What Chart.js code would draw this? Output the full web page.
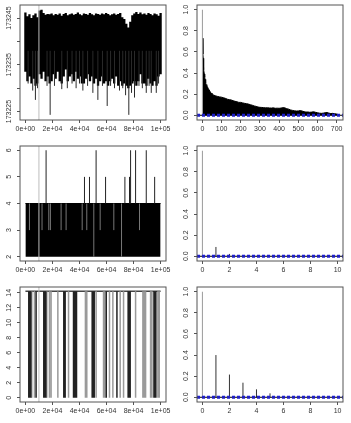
<!DOCTYPE html>
<html>
<head>
<meta charset="utf-8">
<script src="https://cdn.jsdelivr.net/npm/chart.js@4.4.0/dist/chart.umd.min.js"></script>
<style>
    html, body { margin: 0; padding: 0; background: #fff; }
    #panel { display: grid; grid-template-columns: 175px 176px; grid-auto-rows: 141px; width: 351px; }
    canvas { display: block; }
</style>
</head>
<body>
<div id="panel">
    <canvas id="trazaA" width="175" height="141"></canvas>
    <canvas id="acfA" width="176" height="141"></canvas>
    <canvas id="trazaB" width="175" height="141"></canvas>
    <canvas id="acfB" width="176" height="141"></canvas>
    <canvas id="trazaC" width="175" height="141"></canvas>
    <canvas id="acfC" width="176" height="141"></canvas>
</div>
<script>

// ===============================
// DATOS
// ===============================

const rangoIter = [0, 100000];
const burnIn = 10000;

const ticksIter = [0, 20000, 40000, 60000, 80000, 100000];
const etiquetasIter = ["0e+00", "2e+04", "4e+04", "6e+04", "8e+04", "1e+05"];

// traza 1: minimo y maximo del cuerpo de cada tramo de la cadena
const trazaBajo = [
    173233.5, 173231.5, 173232.5, 173231, 173232, 173230.5, 173231, 173233,
    173232, 173233.5, 173231.5, 173232.5, 173231, 173231.5, 173233, 173232,
    173233.5, 173231.5, 173231, 173232.5, 173234, 173231.5, 173232.5, 173233,
    173231.5, 173233.5, 173232, 173232.5, 173231, 173231, 173232, 173233,
    173231.5, 173232.5, 173231, 173232, 173230.5, 173231.5, 173232.5, 173231,
    173231.5, 173230.5, 173231.5, 173232, 173231, 173232.5, 173230.5, 173231.5,
    173230.5, 173231, 173230.5, 173230, 173230.5, 173231, 173231.5, 173230.5,
    173231.5, 173233, 173231, 173231, 173230.5, 173232, 173231, 173230.5,
    173231.5, 173230.5, 173232.5, 173233
];
const trazaAlto = [
    173246.2, 173245.4, 173245.8, 173245.0, 173245.6, 173246.0, 173245.2, 173246.6,
    173246.8, 173246.1, 173245.7, 173245.9, 173245.8, 173246.0, 173245.6, 173245.9,
    173245.7, 173246.0, 173245.5, 173245.9, 173246.1, 173245.6, 173245.8, 173246.0,
    173245.7, 173245.9, 173246.2, 173245.8, 173245.6, 173246.0, 173245.9, 173245.7,
    173246.1, 173245.8, 173245.6, 173246.0, 173245.9, 173245.7, 173246.0, 173245.8,
    173246.1, 173245.9, 173245.6, 173245.8, 173246.0, 173245.7, 173245.9, 173246.1,
    173245.2, 173244.8, 173243.8, 173243.0, 173244.2, 173245.6, 173246.0, 173246.3,
    173245.9, 173246.2, 173245.8, 173246.0, 173245.7, 173246.1, 173245.9, 173245.6,
    173246.0, 173245.8, 173245.5, 173246.1
];
// picos finos hacia abajo
const picoIterA = [2000, 5400, 7400, 9000, 16000, 18300, 21500, 26900, 31000, 34500, 37500,
    40000, 42500, 46000, 49900, 53600, 57000, 60500, 63000, 65900, 69600, 72000, 74100,
    76500, 78500, 80700, 84000, 86500, 89400, 91500, 93100, 96800, 98500];
const picoValorA = [173231, 173229.5, 173227.5, 173230, 173230.5, 173224.3, 173230.5, 173229.8,
    173230, 173231, 173230, 173231, 173229.5, 173230.5, 173229, 173227.5, 173230.5, 173226.2,
    173230.5, 173230, 173229.5, 173230, 173228.5, 173224.3, 173229, 173228, 173230.5, 173230,
    173229, 173230.5, 173229, 173229, 173231];
const limA = [173223.2, 173247.8];
const ticksA = [173225, 173230, 173235, 173240, 173245];
const etiquetasA = ["173225", "", "173235", "", "173245"];

// traza 2
const nivelBloqueB = [2, 4];
const saltoIterB = [15300, 43700, 47400, 52300, 59300, 73600, 77000, 77800, 81500, 89400, 95600];
const saltoValorB = [6, 5, 5, 6, 5, 5, 5, 6, 6, 6, 5];
const huecoIterB = [3000, 12300, 17300, 18500, 26400, 30100, 42000, 45400, 50600, 55300, 65400, 71100, 84400];
const huecoBajoB = [3, 3, 3, 3, 3, 3, 3, 3, 2, 3, 3, 2, 3];
const limB = [1.84, 6.16];
const ticksB = [2, 3, 4, 5, 6];

// traza 3
const nivelAltoC = 14.2;
const caidaOscuraC = [2500, 3200, 4000, 7900, 13600, 14300, 15100, 28400, 29400, 35600, 36300,
    37000, 37800, 49400, 50100, 50900, 59800, 67700, 76000, 76800, 77500, 95100, 95800, 96500];
const caidaClaraC = [4700, 6700, 15800, 17800, 19000, 24000, 31900, 44400, 45400, 52300, 57800,
    58800, 62200, 64700, 70100, 72600, 81500, 86900, 87900, 88900, 92600, 93600, 98000, 99000];
const limC = [-0.57, 14.77];
const ticksC = [0, 2, 4, 6, 8, 10, 12, 14];

// autocorrelaciones
const limAcf = [-0.045, 1.045];
const ticksAcf = [0, 0.2, 0.4, 0.6, 0.8, 1.0];
const etiquetasAcf = ["0.0", "0.2", "0.4", "0.6", "0.8", "1.0"];
const bandaAcf = 0.0063;

const lagsA = [1, 2, 3, 4, 5, 6, 7, 8, 10, 12, 14, 16, 18, 20, 23, 26, 30, 35, 40, 45, 50, 55, 60,
    70, 80, 90, 100, 110, 120, 130, 140, 150, 160, 170, 180, 190, 200, 210, 220, 230, 240, 250,
    260, 270, 280, 290, 300, 310, 320, 330, 340, 350, 360, 370, 380, 390, 400, 410, 420, 430,
    440, 450, 460, 470, 480, 490, 500, 510, 520, 530, 540, 550, 560, 570, 580, 590, 600, 610,
    620, 630, 640, 650, 660, 670, 680, 690, 700, 705];
const acfA = [0.73, 0.64, 0.58, 0.54, 0.50, 0.47, 0.45, 0.43, 0.39, 0.36, 0.34, 0.32, 0.305, 0.29,
    0.28, 0.27, 0.255, 0.24, 0.225, 0.21, 0.2, 0.195, 0.19, 0.183, 0.178, 0.174, 0.171, 0.166,
    0.16, 0.152, 0.148, 0.145, 0.138, 0.132, 0.128, 0.122, 0.122, 0.117, 0.113, 0.11, 0.106,
    0.1, 0.095, 0.088, 0.084, 0.078, 0.075, 0.074, 0.072, 0.07, 0.071, 0.069, 0.068, 0.07,
    0.066, 0.067, 0.066, 0.068, 0.072, 0.07, 0.062, 0.058, 0.05, 0.046, 0.042, 0.04, 0.041,
    0.044, 0.04, 0.034, 0.03, 0.031, 0.028, 0.03, 0.033, 0.028, 0.024, 0.02, 0.018, 0.02,
    0.024, 0.026, 0.02, 0.016, 0.018, 0.014, 0.012, 0.01];
const limLagA = [-28.2, 733.2];
const ticksLagA = [0, 100, 200, 300, 400, 500, 600, 700];

const lagsCorto = [0, 1, 2, 3, 4, 5, 6, 7, 8, 9, 10];
const acfB = [1, 0.088, 0.022, 0.006, 0.003, 0.002, 0.004, 0.002, 0.001, 0.002, 0.001];
const acfC = [1, 0.40, 0.215, 0.138, 0.075, 0.037, 0.012, 0.004, 0.002, 0.001, 0.001];
const limLagCorto = [-0.4, 10.4];
const ticksLagCorto = [0, 2, 4, 6, 8, 10];


// ===============================
// ESTILO
// ===============================

const familia = "'Liberation Sans', Arial, sans-serif";
const colorTexto = "#333";
const colorEje = "#555";
const azul = "#1f1fd0";

const marco = {
    id: "marco",
    afterDatasetsDraw(chart) {
        const { ctx, chartArea: a } = chart;
        ctx.save();
        ctx.strokeStyle = colorEje;
        ctx.lineWidth = 1;
        ctx.strokeRect(a.left, a.top, a.right - a.left, a.bottom - a.top);
        ctx.restore();
    }
};

// etiquetas del eje y giradas como en R
const etiquetasY = {
    id: "etiquetasY",
    afterDraw(chart) {
        const s = chart.scales.y;
        const ctx = chart.ctx;
        ctx.save();
        ctx.fillStyle = colorTexto;
        ctx.font = "7px " + familia;
        ctx.textAlign = "center";
        ctx.textBaseline = "middle";
        s.ticks.forEach(t => {
            if (!t.label) return;
            ctx.save();
            ctx.translate(chart.chartArea.left - 11, s.getPixelForValue(t.value));
            ctx.rotate(-Math.PI / 2);
            ctx.fillText(t.label, 0, 0);
            ctx.restore();
        });
        ctx.restore();
    }
};


// ===============================
// AYUDAS
// ===============================

// segmentos verticales separados por huecos
function segmentos(xs, bajos, altos) {
    let puntos = [];
    xs.forEach((x, i) => {
        puntos.push({ x: x, y: bajos[i] });
        puntos.push({ x: x, y: altos[i] });
        puntos.push({ x: x, y: null });
    });
    return puntos;
}

function linea(datos, color, ancho, orden, extra) {
    return Object.assign({
        data: datos,
        borderColor: color,
        borderWidth: ancho,
        borderCapStyle: "butt",
        pointRadius: 0,
        fill: false,
        tension: 0,
        order: orden
    }, extra || {});
}

function escala(lim, ticks, etiquetas, eje, ancho) {
    return {
        type: "linear",
        min: lim[0],
        max: lim[1],
        afterBuildTicks: s => { s.ticks = ticks.map(v => ({ value: v })); },
        afterFit: s => {
            if (eje === "x") s.height = 21;
            else s.width = ancho;
        },
        ticks: {
            display: eje === "x",
            callback: (v, i) => etiquetas[i],
            color: colorTexto,
            font: { family: familia, size: 7 },
            padding: 2,
            maxRotation: 0,
            autoSkip: false
        },
        grid: { drawOnChartArea: false, color: colorEje, tickLength: 3 },
        border: { display: false }
    };
}

function crearPanel(id, datasets, limX, ticksX, etiquetasX, limY, ticksY, etiquetasYTexto, ancho) {
    new Chart(document.getElementById(id), {
        type: "line",
        data: { datasets: datasets },
        options: {
            responsive: false,
            animation: false,
            events: [],
            layout: { padding: { top: 5, right: ancho === 20 ? 9 : 8, left: 0, bottom: 0 } },
            plugins: { legend: { display: false }, tooltip: { enabled: false } },
            scales: {
                x: escala(limX, ticksX, etiquetasX, "x", ancho),
                y: escala(limY, ticksY, etiquetasYTexto, "y", ancho)
            }
        },
        plugins: [marco, etiquetasY]
    });
}

function lineaBurnIn(limY) {
    return linea([{ x: burnIn, y: limY[0] }, { x: burnIn, y: limY[1] }], "#bdbdbd", 1, 0);
}


// ===============================
// TRAZAS
// ===============================

function generarTrazaA() {
    const iter = trazaBajo.map((_, i) => rangoIter[1] * i / (trazaBajo.length - 1));
    crearPanel("trazaA", [
        lineaBurnIn(limA),
        linea(segmentos(picoIterA, picoValorA, picoIterA.map(() => 173238)), "#2a2a2a", 1, 2),
        linea(segmentos(iter, trazaBajo, trazaAlto), "#000", 2.3, 3)
    ], [-4000, 104000], ticksIter, etiquetasIter, limA, ticksA, etiquetasA, 20);
}

function generarTrazaB() {
    crearPanel("trazaB", [
        lineaBurnIn(limB),
        linea(segmentos(saltoIterB, saltoIterB.map(() => nivelBloqueB[1]), saltoValorB), "#222", 1, 1),
        linea(segmentos(huecoIterB, huecoBajoB, huecoIterB.map(() => nivelBloqueB[1])), "#777", 1, 2),
        linea(rangoIter.map(x => ({ x: x, y: nivelBloqueB[1] })), "#000", 1, 3,
            { fill: { value: nivelBloqueB[0] }, backgroundColor: "#000" })
    ], [-4000, 104000], ticksIter, etiquetasIter, limB, ticksB, ticksB.map(String), 20);
}

function generarTrazaC() {
    crearPanel("trazaC", [
        lineaBurnIn(limC),
        linea(segmentos(caidaOscuraC, caidaOscuraC.map(() => 0), caidaOscuraC.map(() => nivelAltoC)), "#222", 1.5, 1),
        linea(segmentos(caidaClaraC, caidaClaraC.map(() => 0), caidaClaraC.map(() => nivelAltoC)), "#9a9a9a", 1.5, 2),
        linea(rangoIter.map(x => ({ x: x, y: nivelAltoC })), "#444", 1.5, 3)
    ], [-4000, 104000], ticksIter, etiquetasIter, limC, ticksC, ticksC.map(String), 20);
}


// ===============================
// AUTOCORRELACIONES
// ===============================

function bandas(limX) {
    return [
        linea(limX.map(x => ({ x: x, y: bandaAcf })), azul, 1.5, 0, { borderDash: [3, 2] }),
        linea(limX.map(x => ({ x: x, y: -bandaAcf })), azul, 1.5, 0, { borderDash: [3, 2] }),
        linea(limX.map(x => ({ x: x, y: 0 })), "#000", 1, 1)
    ];
}

function generarAcfA() {
    crearPanel("acfA", bandas(limLagA).concat([
        linea(segmentos([0], [0], [1]), "#9a9a9a", 1, 2),
        linea(lagsA.map((l, i) => ({ x: l, y: acfA[i] })), "#000", 1, 3,
            { fill: "origin", backgroundColor: "#000" })
    ]), limLagA, ticksLagA, ticksLagA.map(String), limAcf, ticksAcf, etiquetasAcf, 22);
}

function generarAcfCorto(id, valores) {
    const resto = lagsCorto.slice(1);
    crearPanel(id, bandas(limLagCorto).concat([
        linea(segmentos([0], [0], [valores[0]]), "#9a9a9a", 1, 2),
        linea(segmentos(resto, resto.map(() => 0), valores.slice(1)), "#333", 1, 2)
    ]), limLagCorto, ticksLagCorto, ticksLagCorto.map(String), limAcf, ticksAcf, etiquetasAcf, 22);
}

generarTrazaA();
generarAcfA();
generarTrazaB();
generarAcfCorto("acfB", acfB);
generarTrazaC();
generarAcfCorto("acfC", acfC);

</script>
</body>
</html>
